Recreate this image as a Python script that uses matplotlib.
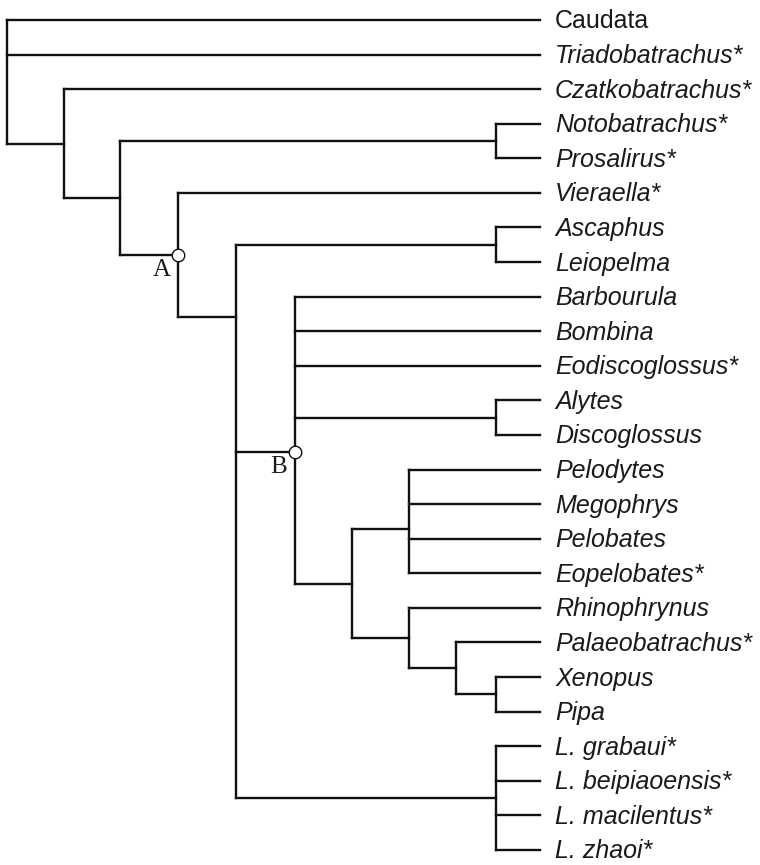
import matplotlib.pyplot as plt

plt.rcParams['font.family'] = 'Liberation Sans'

# taxa, top to bottom
taxa = ['Caudata', 'Triadobatrachus*', 'Czatkobatrachus*', 'Notobatrachus*',
        'Prosalirus*', 'Vieraella*', 'Ascaphus', 'Leiopelma', 'Barbourula',
        'Bombina', 'Eodiscoglossus*', 'Alytes', 'Discoglossus', 'Pelodytes',
        'Megophrys', 'Pelobates', 'Eopelobates*', 'Rhinophrynus',
        'Palaeobatrachus*', 'Xenopus', 'Pipa', 'L. grabaui*',
        'L. beipiaoensis*', 'L. macilentus*', 'L. zhaoi*']
upright = ['Caudata']

# internal nodes: name -> (depth, children)
nodes = {
    'root':    (7,   ['Caudata', 'Triadobatrachus*', 'n1']),
    'n1':      (64,  ['Czatkobatrachus*', 'n2']),
    'n2':      (120, ['noto', 'A']),
    'noto':    (496, ['Notobatrachus*', 'Prosalirus*']),
    'A':       (178, ['Vieraella*', 'n4']),
    'n4':      (236, ['asc', 'B', 'lieo']),
    'asc':     (496, ['Ascaphus', 'Leiopelma']),
    'B':       (295, ['Barbourula', 'Bombina', 'Eodiscoglossus*', 'aly', 'n6']),
    'aly':     (496, ['Alytes', 'Discoglossus']),
    'n6':      (352, ['pelo', 'rhino']),
    'pelo':    (409, ['Pelodytes', 'Megophrys', 'Pelobates', 'Eopelobates*']),
    'rhino':   (409, ['Rhinophrynus', 'palaeo']),
    'palaeo':  (456, ['Palaeobatrachus*', 'xp']),
    'xp':      (496, ['Xenopus', 'Pipa']),
    'lieo':    (496, ['L. grabaui*', 'L. beipiaoensis*', 'L. macilentus*', 'L. zhaoi*']),
}
# where the stem meets a node, in leaf rows (if not midway)
anchor = {'n4': 8.59, 'B': 12.49, 'pelo': 14.72}
marked = ['A', 'B']

leaf_x = 540
y0, dy = 20, 34.58
row = {t: i for i, t in enumerate(taxa)}


def ypos(name):
    if name in row:
        return y0 + row[name] * dy
    if name in anchor:
        return y0 + anchor[name] * dy
    kids = nodes[name][1]
    return (ypos(kids[0]) + ypos(kids[-1])) / 2


fig = plt.figure(figsize=(7.6, 8.65), dpi=100)
ax = fig.add_axes([0, 0, 1, 1])
ax.set_xlim(0, 760)
ax.set_ylim(865, 0)
ax.axis('off')

lc = '#111111'
lw = 1.7
for name, (x, kids) in nodes.items():
    ys = [ypos(k) for k in kids]
    ax.plot([x, x], [min(ys), max(ys)], color=lc, lw=lw, solid_capstyle='projecting')
    for k, yk in zip(kids, ys):
        xe = nodes[k][0] if k in nodes else leaf_x
        ax.plot([x, xe], [yk, yk], color=lc, lw=lw, solid_capstyle='projecting')

for t in taxa:
    ax.text(leaf_x + 15, ypos(t) + 8.5, t, fontsize=18, color='#1a1a1a',
            style='normal' if t in upright else 'italic', ha='left', va='baseline')

for m in marked:
    x = nodes[m][0]
    y = ypos(m)
    ax.plot(x, y, 'o', ms=9, mfc='white', mec=lc, mew=1.0, zorder=5)
    ax.text(x - 16, y + 15, m, fontsize=18, family='Liberation Serif',
            ha='center', va='center', color='#1a1a1a')

fig.savefig('out.png', dpi=100)
